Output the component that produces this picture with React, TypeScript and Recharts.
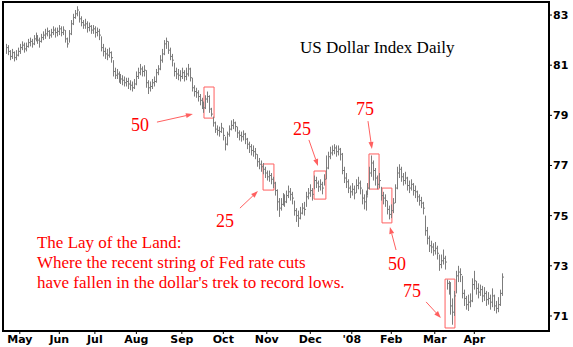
import React from 'react';
import {
  ComposedChart,
  Bar,
  XAxis,
  YAxis,
  ReferenceArea,
  ReferenceLine,
  ReferenceDot,
} from 'recharts';

// daily US Dollar Index, Apr 20 2007 .. Apr 18 2008 (one entry per trading day)
const CLOSE = [
  81.70, 81.55, 81.35, 81.50, 81.30, 81.40, 81.55,
  81.70, 81.80, 81.65, 81.75, 81.90, 81.95, 81.85,
  82.05, 82.15, 82.00, 81.95, 82.10, 82.20,
  82.25, 82.35, 82.20, 82.30, 82.40, 82.30, 82.35,
  82.45, 82.30, 82.40, 82.05, 81.85,
  82.25, 82.65, 82.90, 83.05, 83.20,
  82.85, 82.70, 82.60, 82.65, 82.50, 82.55, 82.40, 82.45,
  82.30, 82.35, 82.20,
  81.70, 81.55, 81.45, 81.40, 81.50, 81.30,
  80.75, 80.60, 80.65, 80.50,
  80.45, 80.40, 80.30, 80.35, 80.25,
  80.20, 80.10, 80.25,
  80.55, 80.70, 80.85, 80.75, 80.80,
  80.30, 80.10, 80.15,
  80.30, 80.35, 80.70, 80.85,
  81.20, 81.45, 81.85, 81.95,
  81.60, 81.35, 81.20,
  80.75, 80.65, 80.60, 80.55, 80.70, 80.55, 80.65,
  80.85, 80.50,
  80.10, 79.95, 79.90, 79.75, 79.60, 79.45,
  79.30, 79.65, 79.75, 79.25, 79.05,
  78.70, 78.45, 78.40, 78.35, 78.50, 78.20,
  77.85, 78.25, 78.45,
  78.60, 78.70, 78.55,
  78.30, 78.20, 78.15, 78.25, 78.05,
  77.85, 77.75, 77.60, 77.55, 77.45,
  77.15, 77.05, 76.95, 76.85,
  76.70, 76.55, 76.60, 76.45, 76.30,
  76.00, 75.55, 75.30, 75.45,
  75.65, 75.55, 75.80,
  75.95, 75.85, 75.70,
  75.20, 75.00, 74.90, 75.10,
  75.30, 75.25,
  75.75, 75.90, 76.00, 75.85,
  76.40, 76.30, 76.15, 76.25, 76.10,
  76.45, 76.90, 77.35, 77.50,
  77.60, 77.70, 77.55, 77.65, 77.45,
  76.80, 76.50, 76.35,
  76.10, 75.95, 76.05, 75.90,
  76.20, 76.30, 76.10,
  75.70, 75.55, 75.75,
  76.10, 76.70, 77.10, 76.80,
  76.50, 76.25, 76.40,
  75.80, 75.70, 75.60,
  75.25, 75.05, 75.20, 75.50,
  76.10, 76.70, 76.85,
  76.55, 76.40, 76.50,
  76.20, 76.10, 76.25, 76.00, 75.95,
  75.75, 75.60, 75.50, 75.30,
  74.40, 74.10, 73.80, 73.75,
  73.60, 73.70, 73.50,
  73.05, 73.20, 73.30, 73.15,
  72.30, 72.10, 71.40,
  71.15, 71.80,
  72.60, 72.75, 72.65,
  71.90, 71.70,
  71.45, 71.55, 71.60,
  72.25, 72.40,
  72.10, 71.95, 72.05, 71.80,
  71.90, 71.65, 71.70, 71.55, 71.80,
  71.40, 71.30, 71.45,
  71.90, 72.55,
];

const HIGH = [
  81.85, 81.80, 81.60, 81.65, 81.55, 81.60, 81.70,
  81.85, 81.95, 81.90, 81.90, 82.05, 82.10, 82.05,
  82.20, 82.30, 82.20, 82.10, 82.25, 82.35,
  82.45, 82.50, 82.40, 82.45, 82.55, 82.50, 82.50,
  82.60, 82.55, 82.55, 82.40, 82.10,
  82.40, 82.80, 83.05, 83.20, 83.35,
  83.15, 82.95, 82.80, 82.85, 82.75, 82.70, 82.60, 82.60,
  82.55, 82.50, 82.45,
  82.15, 81.85, 81.70, 81.65, 81.70, 81.55,
  81.20, 80.90, 80.85, 80.75,
  80.65, 80.60, 80.55, 80.50, 80.50,
  80.40, 80.35, 80.45,
  80.75, 80.90, 81.05, 80.95, 81.00,
  80.80, 80.40, 80.35,
  80.45, 80.55, 80.85, 81.00,
  81.40, 81.65, 82.00, 82.10,
  81.95, 81.70, 81.45,
  81.10, 80.90, 80.85, 80.80, 80.90, 80.80, 80.90,
  81.05, 80.90,
  80.50, 80.20, 80.10, 80.00, 79.85, 79.70,
  79.55, 79.80, 79.95, 79.80, 79.30,
  78.95, 78.75, 78.60, 78.55, 78.70, 78.50,
  78.15, 78.35, 78.60,
  78.80, 78.85, 78.75,
  78.55, 78.40, 78.35, 78.40, 78.30,
  78.10, 77.95, 77.85, 77.80, 77.70,
  77.45, 77.30, 77.20, 77.10,
  76.95, 76.80, 76.80, 76.70, 76.55,
  76.35, 76.05, 75.70, 75.70,
  75.90, 75.85, 76.00,
  76.20, 76.10, 75.95,
  75.60, 75.30, 75.20, 75.35,
  75.50, 75.55,
  75.95, 76.10, 76.25, 76.10,
  76.60, 76.55, 76.40, 76.45, 76.35,
  76.65, 77.40, 77.55, 77.75,
  77.80, 77.85, 77.80, 77.80, 77.70,
  77.50, 76.95, 76.70,
  76.45, 76.20, 76.30, 76.20,
  76.45, 76.55, 76.40,
  76.05, 75.85, 76.00,
  76.30, 76.95, 77.40, 77.20,
  76.90, 76.60, 76.70,
  76.15, 75.95, 75.85,
  75.60, 75.40, 75.45, 75.70,
  76.25, 76.95, 77.05,
  76.95, 76.70, 76.75,
  76.55, 76.40, 76.45, 76.30, 76.20,
  76.00, 75.85, 75.75, 75.55,
  75.00, 74.55, 74.20, 74.00,
  73.90, 73.95, 73.80,
  73.45, 73.45, 73.65, 73.40,
  72.45, 72.40, 72.35,
  71.70, 72.00,
  72.80, 73.00, 72.90,
  72.60, 72.05,
  71.80, 71.85, 71.90,
  72.50, 72.80,
  72.40, 72.30, 72.25, 72.20,
  72.15, 72.00, 71.95, 71.85, 72.10,
  71.85, 71.60, 71.75,
  72.05, 72.70,
];

const LOW = [
  81.45, 81.40, 81.20, 81.25, 81.15, 81.20, 81.35,
  81.45, 81.60, 81.50, 81.55, 81.70, 81.75, 81.70,
  81.80, 81.95, 81.85, 81.70, 81.90, 82.00,
  82.05, 82.15, 82.05, 82.10, 82.20, 82.10, 82.15,
  82.20, 82.15, 82.20, 81.90, 81.70,
  81.90, 82.20, 82.60, 82.85, 82.95,
  82.70, 82.55, 82.45, 82.45, 82.30, 82.35, 82.25, 82.25,
  82.10, 82.15, 82.00,
  81.55, 81.35, 81.25, 81.20, 81.30, 81.10,
  80.55, 80.45, 80.45, 80.30,
  80.25, 80.20, 80.15, 80.15, 80.05,
  80.00, 79.95, 80.05,
  80.20, 80.45, 80.60, 80.55, 80.55,
  80.10, 79.85, 79.95,
  80.05, 80.15, 80.30, 80.60,
  80.80, 81.10, 81.40, 81.65,
  81.45, 81.20, 80.95,
  80.55, 80.45, 80.40, 80.35, 80.45, 80.35, 80.40,
  80.55, 80.35,
  79.95, 79.75, 79.70, 79.55, 79.40, 79.25,
  79.10, 79.25, 79.50, 79.10, 78.95,
  78.55, 78.30, 78.20, 78.15, 78.30, 78.00,
  77.60, 77.80, 78.15,
  78.40, 78.45, 78.35,
  78.10, 78.00, 77.95, 78.00, 77.85,
  77.65, 77.50, 77.40, 77.35, 77.25,
  76.95, 76.85, 76.75, 76.65,
  76.50, 76.40, 76.35, 76.25, 76.10,
  75.80, 75.20, 74.95, 75.20,
  75.40, 75.35, 75.50,
  75.70, 75.60, 75.45,
  75.00, 74.75, 74.55, 74.85,
  75.05, 75.00,
  75.35, 75.65, 75.75, 75.60,
  76.05, 76.10, 75.95, 76.00, 75.85,
  76.20, 76.45, 76.85, 77.25,
  77.40, 77.45, 77.35, 77.40, 77.20,
  76.65, 76.30, 76.10,
  75.90, 75.70, 75.80, 75.65,
  75.90, 76.05, 75.85,
  75.45, 75.25, 75.20,
  75.80, 76.05, 76.55, 76.40,
  76.20, 76.05, 76.10,
  75.60, 75.45, 75.35,
  75.05, 74.85, 74.90, 75.10,
  75.50, 76.05, 76.50,
  76.35, 76.20, 76.25,
  76.00, 75.90, 76.00, 75.80, 75.70,
  75.55, 75.40, 75.30, 75.05,
  74.20, 73.85, 73.55, 73.50,
  73.40, 73.45, 73.25,
  72.80, 72.90, 73.05, 72.85,
  72.05, 71.85, 71.05,
  70.65, 71.00,
  71.90, 72.35, 72.35,
  71.70, 71.40,
  71.25, 71.20, 71.35,
  71.55, 72.05,
  71.85, 71.70, 71.80, 71.55,
  71.60, 71.40, 71.45, 71.25, 71.35,
  71.20, 71.10, 71.15,
  71.40, 71.80,
];

// month labels and the trading-day index where each one sits
const MONTH_LABELS = ['May', 'Jun', 'Jul', 'Aug', 'Sep', 'Oct', 'Nov', 'Dec', "'08", 'Feb', 'Mar', 'Apr'];
const MONTH_TICKS = [7, 27, 45, 66, 89, 110, 132, 154, 175, 195, 217, 237];
const PRICE_TICKS = [71, 73, 75, 77, 79, 81, 83];

// Fed cuts (basis points)
const CUT_SIZES = ['50', '25', '25', '75', '50', '75'];

const X_DOMAIN: [number, number] = [-1.5, 274.8];
const Y_DOMAIN: [number, number] = [70.4, 83.52];

const RED = '#ff0000';
const PALE_RED = '#ff6060';
const BAR_GREY = '#7c7c7c';
const SERIF = '"Liberation Serif", "Times New Roman", serif';

const data = CLOSE.map((c, i) => ({ i, close: c, high: HIGH[i], low: LOW[i], range: [LOW[i], HIGH[i]] }));

// annotation layout, in chart coordinates (bar index, price)
const boxes = [
  { x1: 100.2, x2: 105.3, y1: 78.89, y2: 80.13 },
  { x1: 130.1, x2: 135.6, y1: 76.02, y2: 77.06 },
  { x1: 155.9, x2: 161.9, y1: 75.66, y2: 76.78 },
  { x1: 183.7, x2: 188.8, y1: 76.06, y2: 77.46 },
  { x1: 190.3, x2: 195.3, y1: 74.71, y2: 76.1 },
  { x1: 222.2, x2: 227.2, y1: 70.52, y2: 72.47 },
];
const labels = [
  { x: 63.3, y: 78.37 },
  { x: 106.3, y: 74.55 },
  { x: 145.2, y: 78.22 },
  { x: 177.1, y: 79.01 },
  { x: 193.3, y: 72.83 },
  { x: 200.9, y: 71.76 },
];
const arrows = [
  [{ x: 76.4, y: 78.73 }, { x: 94.6, y: 79.05 }],
  [{ x: 118.4, y: 75.3 }, { x: 127.5, y: 75.98 }],
  [{ x: 153.3, y: 78.02 }, { x: 157.9, y: 76.98 }],
  [{ x: 183.2, y: 78.77 }, { x: 185.2, y: 77.66 }],
  [{ x: 197.4, y: 73.63 }, { x: 194.3, y: 74.55 }],
  [{ x: 212.6, y: 71.56 }, { x: 220.1, y: 70.92 }],
];

const HlcBar = (props: any) => {
  const { x, width, y, height, payload } = props;
  if (x == null || payload == null) return null;
  const cx = Math.round(x + width / 2) + 0.5;
  const top = Math.min(y, y + height);
  const bot = Math.max(y, y + height);
  const span = payload.high - payload.low;
  const cy = span > 0 ? top + ((payload.high - payload.close) / span) * (bot - top) : top;
  return (
    <g>
      <line x1={cx} x2={cx} y1={top} y2={bot} stroke={BAR_GREY} strokeWidth={1} />
      <line x1={cx} x2={cx + 1.5} y1={cy} y2={cy} stroke={BAR_GREY} strokeWidth={1} />
    </g>
  );
};

const Arrow = (props: any) => {
  const { x1, y1, x2, y2 } = props;
  if (x1 == null) return null;
  const a = Math.atan2(y2 - y1, x2 - x1);
  const len = 7;
  const w = 2.5;
  const bx = x2 - len * Math.cos(a);
  const by = y2 - len * Math.sin(a);
  const px = -Math.sin(a) * w;
  const py = Math.cos(a) * w;
  return (
    <g>
      <line x1={x1} y1={y1} x2={bx} y2={by} stroke={PALE_RED} strokeWidth={1} />
      <polygon points={`${x2},${y2} ${bx + px},${by + py} ${bx - px},${by - py}`} fill={PALE_RED} />
    </g>
  );
};

const textAt = (content: React.ReactNode, size: number, color: string) => (p: any) => (
  <text x={p.cx} y={p.cy} fontFamily={SERIF} fontSize={size} fill={color}>
    {content}
  </text>
);

export default function App() {
  const tickStyle = { fill: '#000', fontSize: 11, fontWeight: 'bold', fontFamily: '"DejaVu Sans", Verdana, sans-serif' };
  return (
    <div style={{ position: 'absolute', left: 0, top: 0, width: 573, height: 347, background: '#fff' }}>
      <ComposedChart width={573} height={347} data={data} margin={{ top: 2, right: 0, bottom: 0, left: 3 }}>
        <XAxis
          dataKey="i"
          type="number"
          domain={X_DOMAIN}
          allowDataOverflow
          ticks={MONTH_TICKS}
          interval={0}
          tickFormatter={(v: number) => MONTH_LABELS[MONTH_TICKS.indexOf(v)] ?? ''}
          height={16}
          tickSize={3}
          tickMargin={1}
          axisLine={false}
          tickLine={{ stroke: '#000' }}
          tick={tickStyle}
        />
        <YAxis
          orientation="right"
          domain={Y_DOMAIN}
          allowDataOverflow
          ticks={PRICE_TICKS}
          interval={0}
          width={24}
          tickSize={3}
          tickMargin={1}
          axisLine={false}
          tickLine={{ stroke: '#000' }}
          tick={tickStyle}
        />
        <Bar dataKey="range" barSize={2} isAnimationActive={false} shape={HlcBar} />

        {boxes.map((b, k) => (
          <ReferenceArea key={`box-${k}`} {...b} fill="none" stroke={PALE_RED} strokeWidth={1} />
        ))}
        {arrows.map((seg, k) => (
          <ReferenceLine key={`arr-${k}`} segment={seg} shape={Arrow} ifOverflow="visible" />
        ))}
        {labels.map((l, k) => (
          <ReferenceDot key={`lab-${k}`} x={l.x} y={l.y} r={0} ifOverflow="visible" shape={textAt(CUT_SIZES[k], 18, RED)} />
        ))}

        <ReferenceDot x={148.8} y={81.48} r={0} ifOverflow="visible" shape={textAt('US Dollar Index Daily', 17, '#000')} />
        <ReferenceDot
          x={15.7}
          y={73.71}
          r={0}
          ifOverflow="visible"
          shape={(p: any) => (
            <text x={p.cx} y={p.cy} fontFamily={SERIF} fontSize={17} fill={RED}>
              <tspan x={p.cx}>The Lay of the Land:</tspan>
              <tspan x={p.cx} dy={20}>Where the recent string of Fed rate cuts</tspan>
              <tspan x={p.cx} dy={20}>have fallen in the dollar's trek to record lows.</tspan>
            </text>
          )}
        />

        {/* frame around the plot */}
        <ReferenceArea
          x1={X_DOMAIN[0]}
          x2={X_DOMAIN[1]}
          y1={Y_DOMAIN[0]}
          y2={Y_DOMAIN[1]}
          fill="none"
          stroke="#000"
          strokeWidth={2}
          ifOverflow="visible"
        />
      </ComposedChart>
    </div>
  );
}
